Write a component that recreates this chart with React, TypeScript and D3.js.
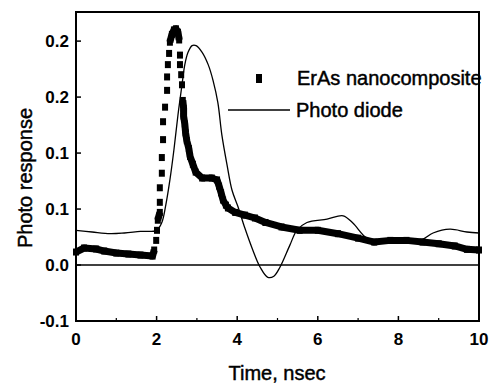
import React from "react";
import * as d3 from "d3";

// ErAs nanocomposite (square markers), time in ns
const erasTime = [
  0, 0.2, 0.5, 0.7, 1.0, 1.3, 1.6, 1.9, 1.94, 1.99, 2.01,
  2.03, 2.08, 2.08, 2.08, 2.13, 2.13, 2.16, 2.16, 2.21, 2.26, 2.26, 2.28, 2.31, 2.33,
  2.38, 2.43, 2.48, 2.53, 2.56,
  2.58, 2.58, 2.61, 2.63, 2.65,
  2.67, 2.67, 2.70, 2.72, 2.75, 2.80, 2.83, 2.90, 2.97, 3.13, 3.37, 3.50, 3.55, 3.60, 3.65, 3.72, 3.77, 3.95,
  4.19, 4.44, 4.7, 5.1, 5.55, 6.0, 6.5, 7.0, 7.4, 7.8, 8.2, 8.6, 9.0, 9.4, 9.7, 10,
];
const erasValue = [
  0.0116, 0.0152, 0.0143, 0.0125, 0.0107, 0.0098, 0.0089, 0.008, 0.0134, 0.022, 0.031,
  0.040, 0.047, 0.056, 0.069, 0.082, 0.096, 0.112, 0.128, 0.141, 0.156, 0.168, 0.179, 0.189, 0.199,
  0.206, 0.210, 0.211, 0.208, 0.201,
  0.1875, 0.179, 0.170, 0.161, 0.147,
  0.140, 0.133, 0.126, 0.118, 0.111, 0.104, 0.097, 0.090, 0.083, 0.0777, 0.0777, 0.076, 0.0705, 0.0645, 0.058, 0.0535, 0.051, 0.047,
  0.0446, 0.042, 0.038, 0.034, 0.031, 0.031, 0.028, 0.024, 0.0205, 0.022, 0.022, 0.0205, 0.019, 0.017, 0.014, 0.0134,
];

// Photo diode (thin line)
const diodeTime = [
  0, 0.4, 0.85, 1.2, 1.6, 2.0, 2.13, 2.23, 2.33, 2.43, 2.53, 2.63, 2.70, 2.78, 2.88, 2.98,
  3.13, 3.28, 3.40, 3.52, 3.62, 3.75, 3.87, 4.02, 4.19, 4.37, 4.57, 4.76, 4.91, 5.06, 5.31,
  5.48, 5.73, 6.23, 6.63, 6.87, 7.22, 7.54, 8.54, 8.86, 9.28, 9.70, 10,
];
const diodeValue = [
  0.031, 0.0295, 0.028, 0.0286, 0.030, 0.031, 0.038, 0.054, 0.076, 0.103, 0.134, 0.161, 0.179, 0.190, 0.196, 0.196,
  0.190, 0.179, 0.165, 0.145, 0.116, 0.089, 0.067, 0.052, 0.033, 0.015, -0.002, -0.011, -0.010, -0.002, 0.018,
  0.031, 0.038, 0.041, 0.044, 0.0375, 0.024, 0.022, 0.022, 0.0286, 0.032, 0.0295, 0.0286,
];

const xTicks = [0, 2, 4, 6, 8, 10];
const xMinorTicks = [1, 3, 5, 7, 9];
const yTickValues = [-0.05, 0, 0.05, 0.1, 0.15, 0.2];
const yTickLabels = ["-0.1", "0.0", "0.1", "0.1", "0.2", "0.2"];

const W = 490, H = 385;
const m = { left: 76, right: 11, top: 12, bottom: 64 };
const font = "'Liberation Sans', Arial, sans-serif";

export default function App() {
  const x = d3.scaleLinear().domain([0, 10]).range([m.left, W - m.right]);
  const y = d3.scaleLinear().domain([-0.05, 0.226]).range([H - m.bottom, m.top]);

  const eras = erasTime.map((t, i) => [x(t), y(erasValue[i])] as [number, number]);
  const diode = diodeTime.map((t, i) => [x(t), y(diodeValue[i])] as [number, number]);

  // markers that sit close together merge into a thick trace
  const runs: [number, number][][] = [];
  let cur: [number, number][] = [eras[0]];
  for (let i = 1; i < eras.length; i++) {
    if (Math.abs(eras[i][1] - eras[i - 1][1]) < 9.5) cur.push(eras[i]);
    else { runs.push(cur); cur = [eras[i]]; }
  }
  runs.push(cur);

  const line = d3.line().curve(d3.curveLinear);
  const smooth = d3.line().curve(d3.curveCatmullRom.alpha(0.5));
  const x0 = x(0), x1 = x(10), yb = y(-0.05), yt = m.top;
  const heavy = { stroke: "#000", strokeWidth: 0.45 };

  return (
    <svg width={W} height={H} style={{ position: "absolute", left: 0, top: 0, background: "#fff" }}>
      {/* zero line */}
      <line x1={x0} x2={x1} y1={y(0)} y2={y(0)} stroke="#000" strokeWidth={1.6} />

      {/* photo diode */}
      <path d={smooth(diode) || ""} fill="none" stroke="#000" strokeWidth={1.3} />

      {/* ErAs */}
      {runs.filter(r => r.length > 1).map((r, i) => (
        <path key={i} d={line(r) || ""} fill="none" stroke="#000" strokeWidth={7} strokeLinejoin="round" />
      ))}
      {eras.map(([px, py], i) => (
        <rect key={i} x={px - 3} y={py - 3.5} width={6} height={7} fill="#000" />
      ))}

      {/* frame */}
      <rect x={x0} y={yt} width={x1 - x0} height={yb - yt} fill="none" stroke="#000" strokeWidth={2} />

      {/* x ticks */}
      {xTicks.map(t => (
        <g key={t}>
          <line x1={x(t)} x2={x(t)} y1={yb} y2={yb - 5} stroke="#000" strokeWidth={1.5} />
          <text x={x(t)} y={345} textAnchor="middle" fontFamily={font} fontWeight="bold" fontSize={17}>{t}</text>
        </g>
      ))}
      {xMinorTicks.map(t => (
        <line key={t} x1={x(t)} x2={x(t)} y1={yb} y2={yb - 3} stroke="#000" strokeWidth={1.2} />
      ))}

      {/* y ticks */}
      {yTickValues.map((v, i) => (
        <g key={i}>
          <line x1={x0} x2={x0 + 5} y1={y(v)} y2={y(v)} stroke="#000" strokeWidth={1.5} />
          <text x={69} y={y(v) + 6} textAnchor="end" fontFamily={font} fontWeight="bold" fontSize={17}>{yTickLabels[i]}</text>
        </g>
      ))}

      {/* axis titles */}
      <text x={277} y={380} textAnchor="middle" fontFamily={font} fontSize={20} {...heavy}>Time, nsec</text>
      <text transform="translate(32,178) rotate(-90)" textAnchor="middle" fontFamily={font} fontSize={20} {...heavy}>Photo response</text>

      {/* legend */}
      <rect x={256} y={74} width={6} height={9} fill="#000" />
      <text x={297} y={85} fontFamily={font} fontSize={20} {...heavy}>ErAs nanocomposite</text>
      <line x1={228} x2={290} y1={110} y2={110} stroke="#000" strokeWidth={1.3} />
      <text x={296} y={117} fontFamily={font} fontSize={20} {...heavy}>Photo diode</text>
    </svg>
  );
}
